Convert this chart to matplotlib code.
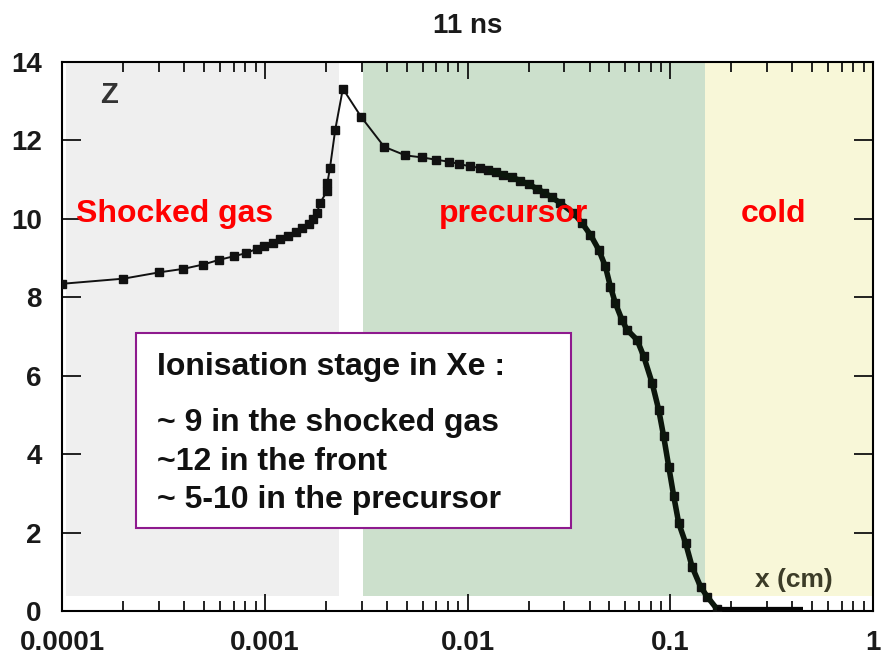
import matplotlib
matplotlib.use("Agg")
import matplotlib.pyplot as plt
from matplotlib.patches import Rectangle

plt.rcParams['font.family'] = ['Liberation Sans', 'DejaVu Sans']
plt.rcParams['font.weight'] = 'bold'

# ionisation profile Z(x) in Xe at t = 11 ns
x_cm = [1.0e-4, 2.0e-4, 3.0e-4, 3.95e-4, 4.95e-4, 5.94e-4, 7.0e-4, 8.05e-4,
        9.1e-4, 9.9e-4, 1.10e-3, 1.19e-3, 1.30e-3, 1.42e-3, 1.52e-3, 1.64e-3,
        1.73e-3, 1.80e-3, 1.87e-3, 2.02e-3, 2.03e-3, 2.09e-3, 2.22e-3, 2.42e-3,
        2.98e-3, 3.87e-3, 4.93e-3, 5.94e-3, 6.97e-3, 8.1e-3, 9.1e-3, 1.03e-2,
        1.15e-2, 1.26e-2, 1.38e-2, 1.50e-2, 1.65e-2, 1.82e-2, 2.0e-2, 2.20e-2,
        2.39e-2, 2.60e-2, 2.86e-2, 3.33e-2, 3.66e-2, 4.03e-2, 4.43e-2, 4.78e-2,
        5.06e-2, 5.35e-2, 5.77e-2, 6.11e-2, 6.85e-2, 7.39e-2, 8.13e-2, 8.76e-2,
        9.27e-2, 9.82e-2, 0.104, 0.110, 0.119, 0.128, 0.141, 0.152, 0.170]
z_ion = [8.35, 8.48, 8.64, 8.73, 8.84, 8.96, 9.05, 9.13,
         9.24, 9.32, 9.39, 9.49, 9.56, 9.66, 9.77, 9.88,
         10.00, 10.15, 10.41, 10.71, 10.92, 11.30, 12.28, 13.32,
         12.60, 11.84, 11.62, 11.57, 11.51, 11.46, 11.40, 11.34,
         11.30, 11.24, 11.19, 11.13, 11.06, 10.98, 10.88, 10.77,
         10.67, 10.55, 10.41, 10.15, 9.90, 9.60, 9.22, 8.79,
         8.28, 7.86, 7.43, 7.18, 6.92, 6.50, 5.82, 5.14,
         4.46, 3.69, 2.93, 2.25, 1.74, 1.14, 0.63, 0.38, 0.06]

# cold gas: not ionised
x_cold = [0.170, 0.454]
z_cold = [0.04, 0.04]

# region limits (cm) and fills
regions = [(1.04e-4, 2.32e-3, '#efefef'),
           (3.05e-3, 0.149, '#cce0cc'),
           (0.149, 0.985, '#f8f7d8')]
region_names = ['Shocked gas', 'precursor', 'cold']
region_label_x = [0.0167, 0.4645, 0.837]

xtick_vals = [1e-4, 1e-3, 1e-2, 1e-1, 1]
xtick_labels = ['0.0001', '0.001', '0.01', '0.1', '1']
ytick_vals = [0, 2, 4, 6, 8, 10, 12, 14]

box_lines = ['Ionisation stage in Xe :',
             '~ 9 in the shocked gas',
             '~12 in the front',
             '~ 5-10 in the precursor']
box_line_y = [0.4304, 0.3285, 0.2575, 0.1884]

fig = plt.figure(figsize=(8.86, 6.54), dpi=100)
ax = fig.add_axes([0.0705, 0.065, 0.9148, 0.8402])
ax.set_xscale('log')
ax.set_xlim(1e-4, 1)
ax.set_ylim(0, 14)

for x0, x1, col in regions:
    ax.axvspan(x0, x1, ymin=0.028, ymax=1, color=col, lw=0, zorder=0)

# sparse part with visible markers, dense part drawn thick
ax.plot(x_cm, z_ion, color='#111', lw=1.4, marker='s', ms=5.5, zorder=3)
dense = [i for i, v in enumerate(x_cm) if v >= 0.012]
ax.plot([x_cm[i] for i in dense], [z_ion[i] for i in dense],
        color='#0c160c', lw=4, zorder=3, solid_capstyle='butt')
ax.plot(x_cold, z_cold, color='#050505', lw=4.5, zorder=3, solid_capstyle='butt')

ax.set_xticks(xtick_vals)
ax.set_xticklabels(xtick_labels)
ax.set_yticks(ytick_vals)
ax.tick_params(which='both', direction='in', top=True, right=True,
               width=1.3, colors='#111', labelsize=20, labelcolor='#1a1a1a')
ax.tick_params(which='major', length=12)
ax.tick_params(which='minor', length=7)
ax.tick_params(axis='y', which='major', length=14, pad=15)
ax.tick_params(axis='x', which='major', pad=13)
for s in ax.spines.values():
    s.set_linewidth(1.5)

ax.set_title('11 ns', fontsize=20, fontweight='bold', color='#1a1a1a', pad=21)

ax.text(0.046, 0.925, 'Z', transform=ax.transAxes, fontsize=21,
        fontweight='bold', color='#333333', va='baseline')
ax.text(0.854, 0.0446, 'x (cm)', transform=ax.transAxes, fontsize=19,
        color='#3c3c28', va='baseline')

for name, xl in zip(region_names, region_label_x):
    ax.text(xl, 0.709, name, transform=ax.transAxes, fontsize=23,
            color='#ff0000', va='baseline', zorder=4)

ax.add_patch(Rectangle((0.0903, 0.1514), 0.5377, 0.3546, transform=ax.transAxes,
                       facecolor='white', edgecolor='#8e1a8e', lw=1.5, zorder=4))
for line, yl in zip(box_lines, box_line_y):
    ax.text(0.1162, yl, line, transform=ax.transAxes, fontsize=23,
            color='#111111', va='baseline', zorder=5)

fig.savefig('out.png', dpi=100)
